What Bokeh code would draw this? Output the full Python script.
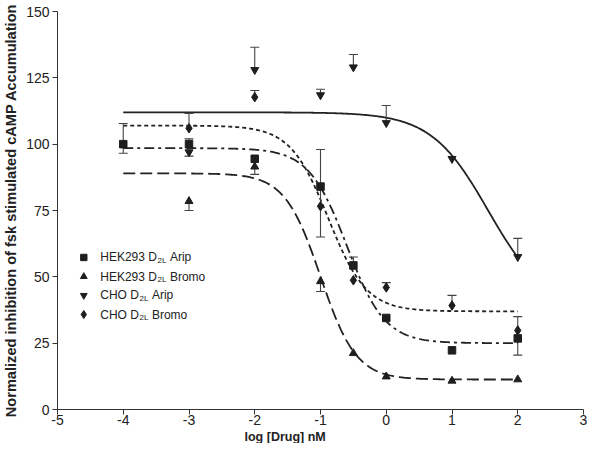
import numpy as np
from bokeh.plotting import figure
from bokeh.models import Range1d, FixedTicker, Title
from bokeh.core.properties import value
from bokeh.embed import file_html
from bokeh.resources import INLINE

nan = float("nan")

# ---- data ----
x_ticks = [-5, -4, -3, -2, -1, 0, 1, 2, 3]
x_tick_labels = ["-5", "-4", "-3", "-2", "-1", "0", "1", "2", "3"]
y_ticks = [0, 25, 50, 75, 100, 125, 150]

hek_arip_x = [-4, -3, -2, -1, -0.5, 0, 1, 2]
hek_arip_y = [100, 100, 94.5, 84, 54.3, 34.5, 22.3, 26.8]
hek_arip_lo = [96.6, 95.5, nan, 65, nan, nan, nan, 20.5]
hek_arip_hi = [107.8, 102, nan, 98, 57.5, nan, nan, 35]

hek_bromo_x = [-3, -2, -1, -0.5, 0, 1, 2]
hek_bromo_y = [78.5, 91.5, 48.3, 21.2, 12.4, 10.8, 11.3]
hek_bromo_lo = [75, 88.6, 44.5, nan, nan, nan, nan]
hek_bromo_hi = [nan, nan, nan, nan, nan, nan, nan]

cho_arip_x = [-3, -2, -1, -0.5, 0, 1, 2]
cho_arip_y = [97, 128, 118.5, 129, 108, 94.5, 57.5]
cho_arip_lo = [nan, nan, nan, nan, nan, nan, nan]
cho_arip_hi = [nan, 136.5, 120.7, 133.8, 114.6, nan, 64.5]

cho_bromo_x = [-3, -2, -1, -0.5, 0, 1, 2]
cho_bromo_y = [106, 117.7, 76.6, 48.7, 46, 39.2, 29.8]
cho_bromo_lo = [nan, nan, nan, nan, nan, nan, nan]
cho_bromo_hi = [111.6, 120.2, nan, nan, 47.8, 43, nan]

# sigmoidal dose-response fit parameters: top, bottom, logEC50, hill slope
hek_arip_fit = [98.5, 25, -0.6, 1.5]
hek_bromo_fit = [89, 11.3, -1.0, 1.6]
cho_arip_fit = [112, 38, 1.55, 1.0]
cho_bromo_fit = [107, 37, -0.88, 1.5]
fit_x_range = [-4, 2]

legend_names = ["Arip", "Bromo", "Arip", "Bromo"]
legend_cells = ["HEK293 D", "HEK293 D", "CHO D", "CHO D"]

INK = "#1e1e1e"
FONT = "Liberation Sans"

p = figure(frame_width=526, frame_height=398, output_backend="svg", toolbar_location=None,
           x_range=Range1d(-5, 3), y_range=Range1d(0, 150),
           min_border_left=54, min_border_right=4, min_border_top=11, min_border_bottom=20)
p.outline_line_color = None
p.xgrid.visible = False
p.ygrid.visible = False
p.background_fill_color = "white"

for ax in (p.xaxis[0], p.yaxis[0]):
    ax.major_tick_out = 5
    ax.major_tick_in = 0
    ax.minor_tick_out = 0
    ax.minor_tick_in = 0
    ax.axis_line_color = "#333333"
    ax.major_tick_line_color = "#333333"
    ax.major_label_text_font = FONT
    ax.major_label_text_font_size = "14px"
    ax.major_label_text_color = "#222222"
    ax.axis_label_text_font = FONT
    ax.axis_label_text_font_style = "bold"
    ax.axis_label_text_color = "#222222"

p.xaxis.ticker = FixedTicker(ticks=x_ticks)
p.xaxis.major_label_overrides = {t: s for t, s in zip(x_ticks, x_tick_labels)}
p.yaxis.ticker = FixedTicker(ticks=y_ticks)
p.yaxis.axis_label = "Normalized inhibition of fsk stimulated cAMP Accumulation"
p.yaxis.axis_label_text_font_size = "14.6px"
p.yaxis.axis_label_standoff = 4
p.xaxis.major_label_standoff = 0
p.yaxis.major_label_standoff = 3

# x-axis title (placed off-centre as in the reference)
p.add_layout(Title(text="log [Drug] nM", align="left", offset=187, standoff=0,
                   text_font=FONT, text_font_size="12.5px", text_font_style="bold",
                   text_color="#222222"), "below")


def curve(fit):
    top, bottom, ec, hill = fit
    xs = np.linspace(fit_x_range[0], fit_x_range[1], 300)
    ys = bottom + (top - bottom) / (1 + 10 ** ((xs - ec) * hill))
    return xs, ys


for fit, dash in [(cho_arip_fit, "solid"), (hek_arip_fit, "10 4 3 4"),
                  (hek_bromo_fit, "12 5"), (cho_bromo_fit, "4 3")]:
    xs, ys = curve(fit)
    p.line(xs, ys, line_color="#222222", line_width=1.8, line_dash=dash)

series = [
    (hek_arip_x, hek_arip_y, hek_arip_lo, hek_arip_hi, "square", 7.5),
    (hek_bromo_x, hek_bromo_y, hek_bromo_lo, hek_bromo_hi, "triangle", 8),
    (cho_arip_x, cho_arip_y, cho_arip_lo, cho_arip_hi, "inverted_triangle", 8),
    (cho_bromo_x, cho_bromo_y, cho_bromo_lo, cho_bromo_hi, "diamond", 9.5),
]

for xs, ys, lo, hi, mk, sz in series:
    p.segment(xs, ys, xs, hi, line_color="#444444", line_width=1.1)
    p.segment(xs, ys, xs, lo, line_color="#444444", line_width=1.1)
    p.scatter(xs, hi, marker="dash", size=9, line_color="#444444", line_width=1.1)
    p.scatter(xs, lo, marker="dash", size=9, line_color="#444444", line_width=1.1)

for xs, ys, lo, hi, mk, sz in series:
    p.scatter(xs, ys, marker=mk, size=sz, fill_color=INK, line_color=INK)

# ---- legend (custom, to allow the D2L subscript) ----
leg_marker_x = -4.6
leg_text_x = -4.35
leg_rows = [57.3, 50.1, 43.0, 35.8]
main_widths = [56.7, 56.7, 38.7, 38.7]
for (xs, ys, lo, hi, mk, sz), yrow, cell, name, w in zip(series, leg_rows, legend_cells,
                                                          legend_names, main_widths):
    p.scatter([leg_marker_x], [yrow], marker=mk, size=sz * 0.85, fill_color=INK, line_color=INK)
    p.text([leg_text_x], [yrow], text=[cell], text_font=value(FONT), text_font_size="12px",
           text_baseline="middle", text_align="left", text_color="#222222")
    p.text([leg_text_x], [yrow], text=["2L"], text_font=value(FONT), text_font_size="8px",
           text_baseline="middle", text_align="left", text_color="#222222",
           x_offset=w + 0.5, y_offset=3)
    p.text([leg_text_x], [yrow], text=[name], text_font=value(FONT), text_font_size="12px",
           text_baseline="middle", text_align="left", text_color="#222222",
           x_offset=w + 13)

open("out.html", "w").write(file_html(p, INLINE))
